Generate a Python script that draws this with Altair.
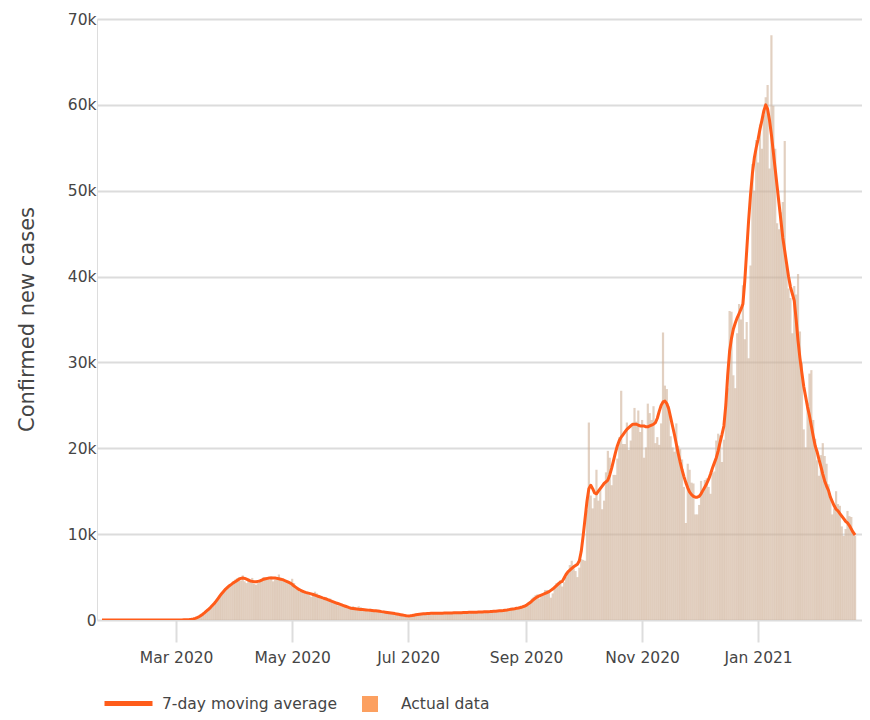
import altair as alt
import pandas as pd

# ---- daily confirmed cases (bars) ----
cases_2020_01 = [0, 0, 0, 0, 0, 0, 0, 0, 0, 2]  # from Jan 22
cases_2020_02 = [0, 0, 0, 0, 0, 1, 0, 1, 0, 4, 0, 0, 0, 1, 0, 0, 0, 0, 0, 0, 0, 0, 0, 0, 0, 0, 2, 5, 4]
cases_2020_03 = [10, 6, 12, 18, 22, 30, 45, 60, 80, 120, 180, 260, 380, 520, 640, 820, 1050, 1200, 1450, 1700,
                 1900, 2150, 2450, 2850, 3150, 3300, 3650, 3900, 3950, 4200, 4450]
cases_2020_04 = [4700, 4850, 4950, 4600, 5200, 4500, 4300, 4850, 4650, 4900, 4200, 4100, 4300, 4600, 4700,
                 5000, 4800, 4900, 4700, 5100, 4500, 4700, 4950, 5300, 4900, 4600, 4700, 4300, 4500, 4400]
cases_2020_05 = [4800, 4300, 3900, 3600, 3300, 3500, 3400, 3100, 3200, 2900, 2700, 3100, 3300, 3100, 2900,
                 2600, 2400, 2500, 2600, 2400, 2500, 2300, 2100, 1900, 1700, 1800, 1900, 1700, 1600, 1500, 1400]
cases_2020_06 = [1500, 1600, 1500, 1400, 1600, 1500, 1300, 1200, 1100, 1200, 1300, 1200, 1100, 1000, 1100,
                 1000, 900, 1100, 1000, 900, 800, 900, 800, 700, 800, 600, 600, 700, 500, 600]
cases_2020_07 = [500, 550, 600, 500, 600, 700, 600, 700, 800, 700, 800, 700, 650, 800, 900, 700, 800, 850,
                 800, 750, 900, 800, 850, 900, 800, 850, 900, 800, 900, 850, 900]
cases_2020_08 = [850, 750, 950, 900, 950, 1000, 900, 900, 850, 1000, 1050, 1000, 950, 1100, 1050, 1000, 1000,
                 1150, 1200, 1100, 1200, 1150, 1250, 1300, 1200, 1400, 1450, 1500, 1600, 1500, 1700]
cases_2020_09 = [1800, 2000, 2200, 2500, 2700, 2900, 3000, 2500, 2700, 3000, 3500, 3500, 3300, 2600, 3100,
                 3900, 4300, 4400, 4600, 3900, 4400, 5000, 5600, 6400, 6900, 6000, 5700, 5000, 6100, 7100]
cases_2020_10 = [7000, 6900, 12800, 23000, 14500, 13000, 14200, 17500, 13900, 15200, 12900, 13900, 17200,
                 19700, 18900, 15700, 16900, 16900, 18800, 21300, 26700, 20500, 20500, 23000, 19800, 20900,
                 22900, 24700, 23100, 24400, 21900]
cases_2020_11 = [23300, 18900, 20100, 25200, 24100, 23300, 24900, 20600, 21300, 20400, 22900, 33500, 27300,
                 26900, 24900, 21400, 20100, 19600, 22900, 20300, 19900, 18700, 15500, 11300, 18200, 17500,
                 16000, 15900, 12300, 12300]
cases_2020_12 = [13400, 16200, 14900, 16300, 16500, 15500, 14700, 17100, 17300, 20900, 21700, 21500, 18400,
                 21000, 25200, 27000, 36000, 35900, 28500, 27000, 33400, 36800, 35000, 39000, 32700, 34700,
                 30500, 41300, 53100, 50000, 55900]
cases_2021_01 = [53300, 57700, 54900, 58800, 60900, 62300, 52600, 68100, 59900, 54900, 46200, 45500, 47500,
                 48700, 55800, 41300, 38600, 37500, 33400, 38900, 37900, 40300, 33600, 30000, 22200, 20100,
                 25300, 28700, 29100, 23300, 21100]
cases_2021_02 = [18600, 16800, 19200, 20600, 19100, 18200, 15800, 14100, 12300, 13000, 15000, 13500, 13300,
                 10900, 9800, 10600, 12700, 12100, 12000, 10400, 9800]

# ---- 7-day moving average (line) ----
avg_2020_01 = [0, 0, 0, 0, 0, 0, 0, 0, 0, 0]
avg_2020_02 = [0, 0, 0, 0, 0, 0, 0, 0, 0, 1, 1, 1, 1, 1, 1, 0, 0, 0, 0, 0, 0, 0, 0, 0, 1, 1, 2, 2, 3]
avg_2020_03 = [5, 5, 8, 12, 18, 25, 40, 60, 90, 130, 190, 270, 380, 520, 680, 860, 1050, 1250, 1450, 1680,
               1920, 2200, 2500, 2800, 3100, 3350, 3600, 3800, 4000, 4150, 4320]
avg_2020_04 = [4450, 4600, 4750, 4850, 4900, 4850, 4750, 4650, 4550, 4500, 4450, 4450, 4500, 4550, 4650,
               4750, 4800, 4850, 4900, 4900, 4900, 4900, 4850, 4800, 4750, 4700, 4600, 4500, 4400, 4300]
avg_2020_05 = [4150, 3950, 3800, 3650, 3500, 3400, 3300, 3220, 3160, 3100, 3040, 2970, 2900, 2820, 2740,
               2660, 2580, 2510, 2440, 2350, 2250, 2160, 2080, 2000, 1920, 1840, 1760, 1680, 1600, 1520, 1440]
avg_2020_06 = [1370, 1340, 1310, 1280, 1250, 1230, 1210, 1190, 1170, 1150, 1130, 1110, 1090, 1070, 1050,
               1010, 975, 945, 915, 885, 850, 815, 780, 745, 700, 660, 620, 580, 540, 500]
avg_2020_07 = [480, 490, 520, 560, 600, 640, 670, 700, 720, 735, 750, 765, 775, 780, 785, 790, 795, 800, 800,
               805, 810, 815, 820, 825, 830, 835, 840, 845, 850, 860, 870]
avg_2020_08 = [880, 890, 895, 900, 905, 915, 925, 930, 940, 950, 960, 970, 980, 995, 1010, 1030, 1050, 1070,
               1090, 1110, 1140, 1170, 1210, 1250, 1285, 1320, 1360, 1400, 1450, 1520, 1600]
avg_2020_09 = [1700, 1850, 2000, 2200, 2400, 2550, 2700, 2800, 2900, 3000, 3100, 3200, 3300, 3450, 3600,
               3800, 4000, 4200, 4400, 4500, 4900, 5300, 5600, 5800, 6000, 6200, 6350, 6500, 6900, 8000]
avg_2020_10 = [9800, 11800, 13800, 15300, 15700, 15300, 14800, 14700, 15000, 15300, 15600, 15900, 16100,
               16300, 16900, 17700, 18600, 19500, 20300, 20900, 21300, 21600, 21900, 22200, 22400, 22600,
               22800, 22800, 22800, 22700, 22600]
avg_2020_11 = [22600, 22600, 22500, 22500, 22600, 22700, 22800, 23000, 23500, 24300, 25000, 25400, 25500,
               25200, 24600, 23600, 22600, 21600, 20500, 19400, 18400, 17500, 16700, 16000, 15400, 14900,
               14600, 14400, 14300, 14300]
avg_2020_12 = [14400, 14700, 15100, 15500, 15900, 16400, 17000, 17700, 18300, 18900, 19700, 20700, 21600,
               22600, 25000, 28500, 31300, 32800, 33900, 34600, 35200, 35700, 36200, 36800, 39500, 43000,
               46500, 49500, 52000, 53800, 55000]
avg_2021_01 = [56000, 57200, 58200, 59300, 60000, 59500, 58200, 56500, 54500, 52500, 50500, 48500, 46500,
               44500, 43000, 41500, 40000, 38800, 38000, 37200, 35000, 32500, 30500, 28800, 27200, 26000,
               24800, 23800, 22600, 21400, 20300]
avg_2021_02 = [19600, 18700, 17900, 17000, 16200, 15600, 15100, 14300, 13800, 13300, 12900, 12700, 12400,
               12100, 11800, 11500, 11300, 11000, 10600, 10200, 9900]

tick_dates = [(2020, 3), (2020, 5), (2020, 7), (2020, 9), (2020, 11), (2021, 1)]
y_ticks = [0, 10000, 20000, 30000, 40000, 50000, 60000, 70000]
line_label = "7-day moving average"
bar_label = "Actual data"

cases = (cases_2020_01 + cases_2020_02 + cases_2020_03 + cases_2020_04 + cases_2020_05 + cases_2020_06 +
         cases_2020_07 + cases_2020_08 + cases_2020_09 + cases_2020_10 + cases_2020_11 + cases_2020_12 +
         cases_2021_01 + cases_2021_02)
avg7 = (avg_2020_01 + avg_2020_02 + avg_2020_03 + avg_2020_04 + avg_2020_05 + avg_2020_06 +
        avg_2020_07 + avg_2020_08 + avg_2020_09 + avg_2020_10 + avg_2020_11 + avg_2020_12 +
        avg_2021_01 + avg_2021_02)

dates = pd.date_range("2020-01-22", periods=len(cases), freq="D")
df = pd.DataFrame({"date": dates, "cases": cases, "avg": avg7[:len(cases)],
                   "bar_series": bar_label, "line_series": line_label})

FONT = "DejaVu Sans"
TXT = "#454545"

x_enc = alt.X(
    "date:T",
    scale=alt.Scale(domain=[alt.DateTime(year=2020, month=1, date=22),
                            alt.DateTime(year=2021, month=2, date=22)]),
    axis=alt.Axis(
        values=[alt.DateTime(year=y, month=m, date=1) for y, m in tick_dates],
        format="%b %Y", title=None, grid=False, domain=False,
        tickSize=22, tickColor="#dddddd", tickWidth=2,
        labelPadding=8, labelFont=FONT, labelFontSize=15.5, labelColor=TXT,
    ),
)

y_axis = alt.Axis(
    values=y_ticks, labelExpr="datum.value == 0 ? '0' : (datum.value / 1000) + 'k'",
    title="Confirmed new cases",
    grid=True, gridColor="#dcdcdc", gridWidth=2, domain=False, ticks=False,
    labelPadding=1, labelFont=FONT, labelFontSize=15.5, labelColor=TXT,
    titleFont=FONT, titleFontSize=21, titleFontWeight="normal", titleColor=TXT,
    titleAngle=270, titleX=-64, titleY=300, titleBaseline="alphabetic", titleAlign="center",
)
y_scale = alt.Scale(domain=[0, 70000], nice=False)

legend_common = dict(title=None, orient="none", padding=0, labelLimit=400,
                     labelFont=FONT, labelFontSize=15.5, labelColor=TXT)

bars = alt.Chart(df).mark_bar(width=2.2, opacity=0.6, clip=True, color="#cfb097").encode(
    x=x_enc,
    y=alt.Y("cases:Q", scale=y_scale, axis=y_axis),
)

# legend entry for the bars (orange swatch); this layer keeps no rows, it only carries the legend
bar_key = alt.Chart(df).transform_filter("false").mark_square(opacity=1).encode(
    x=x_enc,
    y=alt.Y("cases:Q", scale=y_scale, axis=y_axis),
    color=alt.Color("bar_series:N", scale=alt.Scale(domain=[bar_label], range=["#fca060"]),
                    legend=alt.Legend(legendX=264, legendY=676, symbolType="square",
                                      symbolSize=256, symbolOpacity=1, labelOffset=22,
                                      **legend_common)),
)

line = alt.Chart(df).mark_line(strokeWidth=3, clip=True, strokeJoin="round").encode(
    x=x_enc,
    y=alt.Y("avg:Q", scale=y_scale, axis=y_axis),
    color=alt.Color("line_series:N", scale=alt.Scale(domain=[line_label], range=["#ff5c1a"]),
                    legend=alt.Legend(legendX=5, legendY=658, symbolType="stroke",
                                      symbolSize=2304, symbolStrokeWidth=5, labelOffset=7,
                                      **legend_common)),
)

chart = alt.layer(bars, bar_key, line).resolve_scale(color="independent").properties(
    width=765, height=601,
    autosize=alt.AutoSizeParams(type="none"),
    padding={"left": 89, "top": 11, "right": 0, "bottom": 92},
).configure_view(stroke=None).configure(font=FONT)

chart.save("out.html", embed_options={"renderer": "svg", "actions": False})
